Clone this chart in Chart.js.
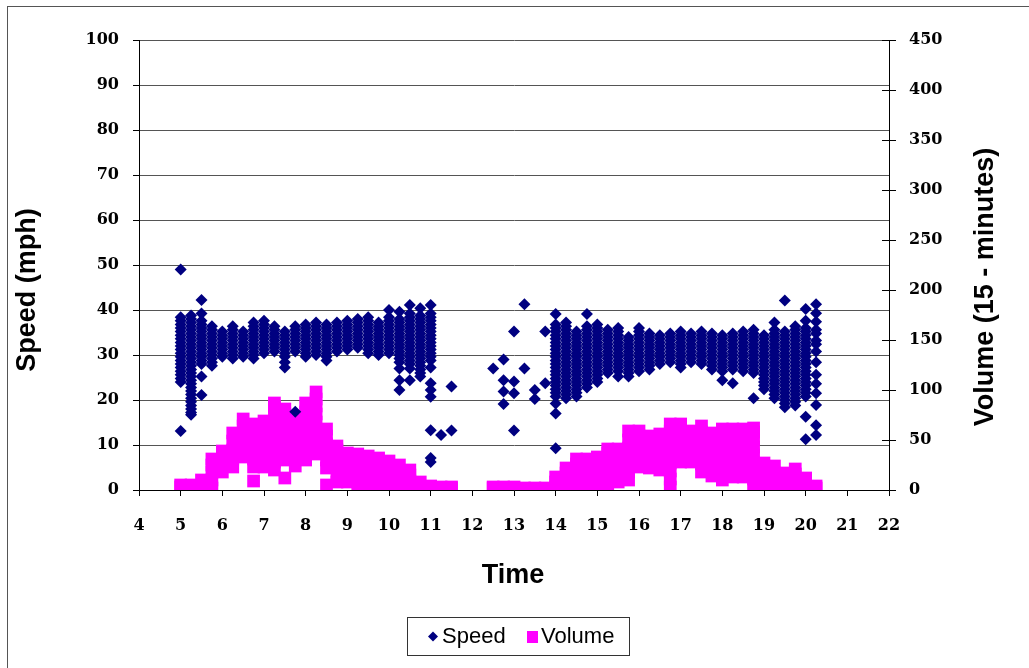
<!DOCTYPE html>
<html>
<head>
<meta charset="utf-8">
<title>Speed and Volume by Time</title>
<script src="https://cdn.jsdelivr.net/npm/chart.js@4.4.1/dist/chart.umd.min.js"></script>
<style>
  html, body { margin: 0; padding: 0; background: #fff; }
  #wrap { width: 1029px; height: 668px; position: relative; }
</style>
</head>
<body>
<div id="wrap"><canvas id="chart"></canvas></div>
<script>
// 15-minute time slots (hour of day) with the speeds observed in each slot (mph)
const speedTimes = [
  5, 5.25, 5.5, 5.75, 6, 6.25, 6.5, 6.75, 7, 7.25, 7.5, 7.75, 8, 8.25, 8.5, 8.75,
  9, 9.25, 9.5, 9.75, 10, 10.25, 10.5, 10.75, 11, 11.25, 11.5,
  12.5, 12.75, 13, 13.25, 13.5, 13.75,
  14, 14.25, 14.5, 14.75, 15, 15.25, 15.5, 15.75, 16, 16.25, 16.5, 16.75,
  17, 17.25, 17.5, 17.75, 18, 18.25, 18.5, 18.75, 19, 19.25, 19.5, 19.75, 20, 20.25
];
const speedValues = [
  [49, 38.4, 37.6, 36.8, 36.0, 35.2, 34.4, 33.6, 32.8, 32.0, 31.2, 30.4, 29.6, 28.8, 28.0, 27.2, 26.4, 25.6, 24.8, 24.0, 13.1],
  [38.8, 38.0, 37.2, 36.4, 35.6, 34.8, 34.0, 33.2, 32.4, 31.6, 30.8, 30.0, 29.2, 28.4, 27.6, 26.8, 26.0, 25.2, 24.4, 23.6, 22.8, 22.0, 21.2, 20.4, 19.6, 18.8, 18.0, 17.2, 16.7],
  [42.2, 39.2, 37.6, 36.8, 36.0, 35.2, 34.4, 33.6, 32.8, 32.0, 31.2, 30.4, 29.6, 28.8, 28.0, 25.2, 21.1],
  [36.4, 35.6, 34.8, 34.0, 33.2, 32.4, 31.6, 30.8, 30.0, 29.2, 28.4, 27.6],
  [35.2, 34.4, 33.6, 32.8, 32.0, 31.2, 30.4, 29.6],
  [36.4, 35.6, 34.8, 34.0, 33.2, 32.4, 31.6, 30.8, 30.0, 29.2],
  [35.2, 34.4, 33.6, 32.8, 32.0, 31.2, 30.4, 29.6],
  [37.2, 36.4, 35.6, 34.8, 34.0, 33.2, 32.4, 31.6, 30.8, 30.0, 29.2],
  [37.6, 36.8, 36.0, 35.2, 34.4, 33.6, 32.8, 32.0, 31.2, 30.4],
  [36.4, 35.6, 34.8, 34.0, 33.2, 32.4, 31.6, 30.8],
  [35.2, 34.4, 33.6, 32.8, 32.0, 31.2, 30.4, 29.6, 28.4, 27.2],
  [36.4, 35.6, 34.8, 34.0, 33.2, 32.4, 31.6, 30.8, 17.4],
  [36.8, 36.0, 35.2, 34.4, 33.6, 32.8, 32.0, 31.2, 30.4, 29.6],
  [37.2, 36.4, 35.6, 34.8, 34.0, 33.2, 32.4, 31.6, 30.8, 30.0],
  [36.8, 36.0, 35.2, 34.4, 33.6, 32.8, 32.0, 31.2, 30.4, 29.6, 28.8],
  [37.2, 36.4, 35.6, 34.8, 34.0, 33.2, 32.4, 31.6, 30.8],
  [37.6, 36.8, 36.0, 35.2, 34.4, 33.6, 32.8, 32.0, 31.2],
  [38.0, 37.2, 36.4, 35.6, 34.8, 34.0, 33.2, 32.4, 31.6],
  [38.4, 37.6, 36.8, 36.0, 35.2, 34.4, 33.6, 32.8, 32.0, 31.2, 30.4],
  [37.2, 36.4, 35.6, 34.8, 34.0, 33.2, 32.4, 31.6, 30.8, 30.0],
  [40.0, 38.4, 37.6, 36.8, 36.0, 35.2, 34.4, 33.6, 32.8, 32.0, 31.2, 30.4],
  [39.6, 38.0, 37.2, 36.4, 35.6, 34.8, 34.0, 33.2, 32.4, 31.6, 30.8, 30.0, 29.2, 28.4, 27.0, 24.4, 22.2],
  [41.1, 39.2, 38.4, 37.6, 36.8, 36.0, 35.2, 34.4, 33.6, 32.8, 32.0, 31.2, 30.4, 29.6, 28.8, 28.0, 27.0, 24.4],
  [40.4, 38.8, 38.0, 37.2, 36.4, 35.6, 34.8, 34.0, 33.2, 32.4, 31.6, 30.8, 30.0, 29.2, 28.4, 27.6, 26.8, 26.0, 25.2],
  [41.1, 39.2, 38.4, 37.6, 36.8, 36.0, 35.2, 34.4, 33.6, 32.8, 32.0, 31.2, 30.4, 29.6, 28.8, 27.2, 23.7, 22.2, 20.7, 13.3, 7.1, 6.2],
  [12.2],
  [23, 13.2],
  [27],
  [29, 24.4, 21.9, 19.1],
  [35.2, 24.1, 21.5, 13.2],
  [41.3, 27],
  [22.2, 20.2],
  [35.2, 23.7],
  [39.1, 36.8, 36.0, 35.2, 34.4, 33.6, 32.8, 32.0, 31.2, 30.4, 29.6, 28.8, 28.0, 27.2, 26.4, 25.6, 24.8, 24.0, 23.2, 22.4, 21.6, 20.8, 19.2, 17.0, 9.3],
  [37.2, 36.4, 35.6, 34.8, 34.0, 33.2, 32.4, 31.6, 30.8, 30.0, 29.2, 28.4, 27.6, 26.8, 26.0, 25.2, 24.4, 23.6, 22.8, 22.0, 21.2, 20.4],
  [35.2, 34.4, 33.6, 32.8, 32.0, 31.2, 30.4, 29.6, 28.8, 28.0, 27.2, 26.4, 25.6, 24.8, 24.0, 23.2, 22.4, 21.6, 20.8],
  [39.1, 36.4, 35.6, 34.8, 34.0, 33.2, 32.4, 31.6, 30.8, 30.0, 29.2, 28.4, 27.6, 26.8, 26.0, 25.2, 24.4, 23.6, 22.8],
  [36.8, 36.0, 35.2, 34.4, 33.6, 32.8, 32.0, 31.2, 30.4, 29.6, 28.8, 28.0, 27.2, 26.4, 25.6, 24.8, 24.0],
  [35.6, 34.8, 34.0, 33.2, 32.4, 31.6, 30.8, 30.0, 29.2, 28.4, 27.6, 26.8, 26.0],
  [36.0, 35.2, 34.4, 33.6, 32.8, 32.0, 31.2, 30.4, 29.6, 28.8, 28.0, 27.2, 26.4, 25.2],
  [34.0, 33.2, 32.4, 31.6, 30.8, 30.0, 29.2, 28.4, 27.6, 26.8, 26.0, 25.2],
  [36.0, 35.2, 34.4, 33.6, 32.8, 32.0, 31.2, 30.4, 29.6, 28.8, 28.0, 27.2, 26.4],
  [34.8, 34.0, 33.2, 32.4, 31.6, 30.8, 30.0, 29.2, 28.4, 27.6, 26.8],
  [34.4, 33.6, 32.8, 32.0, 31.2, 30.4, 29.6, 28.8, 28.0],
  [34.8, 34.0, 33.2, 32.4, 31.6, 30.8, 30.0, 29.2, 28.4],
  [35.2, 34.4, 33.6, 32.8, 32.0, 31.2, 30.4, 29.6, 28.8, 28.0, 27.2],
  [34.8, 34.0, 33.2, 32.4, 31.6, 30.8, 30.0, 29.2, 28.4],
  [35.2, 34.4, 33.6, 32.8, 32.0, 31.2, 30.4, 29.6, 28.8, 28.0],
  [34.8, 34.0, 33.2, 32.4, 31.6, 30.8, 30.0, 29.2, 28.4, 27.6, 26.8],
  [34.4, 33.6, 32.8, 32.0, 31.2, 30.4, 29.6, 28.8, 28.0, 27.2, 26.4, 24.4],
  [34.8, 34.0, 33.2, 32.4, 31.6, 30.8, 30.0, 29.2, 28.4, 27.6, 26.8, 23.7],
  [35.2, 34.4, 33.6, 32.8, 32.0, 31.2, 30.4, 29.6, 28.8, 28.0, 27.2, 26.4],
  [35.6, 34.8, 34.0, 33.2, 32.4, 31.6, 30.8, 30.0, 29.2, 28.4, 27.6, 26.8, 26.0, 20.4],
  [34.4, 33.6, 32.8, 32.0, 31.2, 30.4, 29.6, 28.8, 28.0, 27.2, 26.4, 25.6, 24.8, 24.0, 23.2, 22.4],
  [37.2, 35.6, 34.8, 34.0, 33.2, 32.4, 31.6, 30.8, 30.0, 29.2, 28.4, 27.6, 26.8, 26.0, 25.2, 24.4, 23.6, 22.8, 22.0, 21.2, 20.4],
  [42.1, 35.2, 34.4, 33.6, 32.8, 32.0, 31.2, 30.4, 29.6, 28.8, 28.0, 27.2, 26.4, 25.6, 24.8, 24.0, 23.2, 22.4, 21.6, 20.8, 20.0, 19.2, 18.4],
  [36.4, 35.6, 34.8, 34.0, 33.2, 32.4, 31.6, 30.8, 30.0, 29.2, 28.4, 27.6, 26.8, 26.0, 25.2, 24.4, 23.6, 22.8, 22.0, 21.2, 20.4, 19.6, 18.8],
  [40.2, 37.6, 36.0, 35.2, 34.4, 33.6, 32.8, 32.0, 31.2, 30.4, 29.6, 28.8, 28.0, 27.2, 26.4, 25.6, 24.8, 24.0, 23.2, 22.4, 21.6, 20.8, 16.3, 11.3],
  [41.3, 39.3, 37.4, 35.6, 34.8, 33.2, 32.4, 30.8, 28.4, 25.6, 23.6, 21.5, 18.9, 14.4, 12.2]
];

// 15-minute vehicle counts recorded in each slot
const volumeTimes = [
  5, 5.25, 5.5, 5.75, 6, 6.25, 6.5, 6.75, 7, 7.25, 7.5, 7.75, 8, 8.25, 8.5, 8.75,
  9, 9.25, 9.5, 9.75, 10, 10.25, 10.5, 10.75, 11, 11.25, 11.5,
  12.5, 12.75, 13, 13.25, 13.5, 13.75,
  14, 14.25, 14.5, 14.75, 15, 15.25, 15.5, 15.75, 16, 16.25, 16.5, 16.75,
  17, 17.25, 17.5, 17.75, 18, 18.25, 18.5, 18.75, 19, 19.25, 19.5, 19.75, 20, 20.25
];
const volumeValues = [
  [3, 5], [3, 5], [2, 10], [2, 10, 18, 25, 31], [18, 26, 33, 39],
  [23, 31, 40, 49, 57], [33, 41, 49, 57, 64, 71], [9, 23, 31, 39, 47, 55, 62, 66],
  [23, 31, 39, 47, 55, 63, 69], [20, 28, 36, 44, 52, 60, 68, 76, 83, 87],
  [12, 30, 38, 46, 54, 62, 70, 76, 81], [24, 32, 40, 48, 56, 64, 70],
  [30, 38, 46, 54, 62, 70, 78, 87], [36, 44, 52, 60, 68, 76, 84, 91, 98],
  [5, 22, 30, 38, 46, 54, 61], [8, 16, 24, 32, 40, 44], [8, 16, 24, 31, 37],
  [5, 13, 21, 29, 36], [5, 13, 20, 27, 34], [3, 11, 18, 25, 32], [2, 10, 17, 23, 29],
  [2, 10, 18, 25], [2, 9, 15, 20], [2, 8], [2, 4], [2, 3], [2, 3],
  [2, 3], [2, 3], [2, 3], [1, 2], [1, 2], [1, 2],
  [2, 8, 13], [3, 11, 17, 22], [3, 11, 19, 26, 31], [4, 12, 20, 27, 31], [5, 13, 21, 28, 33],
  [6, 14, 22, 30, 37, 41], [8, 16, 24, 32, 38, 41], [10, 18, 26, 34, 42, 50, 59],
  [23, 31, 39, 47, 54, 59], [22, 30, 38, 46, 54], [20, 28, 36, 44, 51, 56],
  [3, 11, 19, 27, 35, 43, 51, 59, 66], [28, 36, 44, 52, 60, 66], [28, 36, 44, 52, 59],
  [18, 26, 34, 42, 50, 58, 64], [14, 22, 30, 38, 46, 53, 57], [10, 18, 26, 34, 42, 50, 57, 61],
  [13, 21, 29, 37, 45, 53, 61], [13, 21, 29, 37, 45, 53, 61], [3, 11, 19, 27, 35, 43, 51, 58, 62],
  [3, 11, 19, 27], [3, 10, 17, 24], [2, 10, 17], [2, 9, 16, 21], [2, 8, 12], [2, 4]
];

const xTickMin = 4, xTickMax = 22, xTickStep = 1;
const speedTickMax = 100, speedTickStep = 10;
const volumeTickMax = 450, volumeTickStep = 50;

const speedColor = '#000080';
const volumeColor = '#ff00ff';

const toPoints = (times, values) =>
  times.flatMap((t, i) => values[i].map(v => ({ x: t, y: v })));

const tickFont = { family: '"DejaVu Serif", serif', size: 16, weight: 'bold' };
const titleFont = 'bold 27px "Liberation Sans", Arial, sans-serif';

// Frame, inner half of the right-axis ticks, axis titles and the boxed legend
const decorations = {
  id: 'decorations',
  afterDraw(chart) {
    const ctx = chart.ctx;
    const area = chart.chartArea;
    const y1 = chart.scales.y1;
    ctx.save();

    ctx.strokeStyle = '#555';
    ctx.lineWidth = 1;
    ctx.strokeRect(7.5, 6.5, 1100, 700);

    ctx.strokeStyle = '#000';
    ctx.beginPath();
    for (let v = 0; v <= volumeTickMax; v += volumeTickStep) {
      const py = Math.round(y1.getPixelForValue(v)) + 0.5;
      ctx.moveTo(area.right - 7, py);
      ctx.lineTo(area.right, py);
    }
    ctx.stroke();

    ctx.fillStyle = '#000';
    ctx.font = titleFont;
    ctx.textAlign = 'center';
    ctx.textBaseline = 'middle';
    ctx.fillText('Time', 513, 576);
    ctx.save();
    ctx.translate(28, 290);
    ctx.rotate(-Math.PI / 2);
    ctx.fillText('Speed (mph)', 0, 0);
    ctx.restore();
    ctx.save();
    ctx.translate(986, 287);
    ctx.rotate(-Math.PI / 2);
    ctx.fillText('Volume (15 - minutes)', 0, 0);
    ctx.restore();

    // legend
    ctx.strokeStyle = '#333';
    ctx.strokeRect(407.5, 617.5, 222, 38);
    ctx.fillStyle = speedColor;
    ctx.beginPath();
    ctx.moveTo(428, 636.5);
    ctx.lineTo(433, 631.5);
    ctx.lineTo(438, 636.5);
    ctx.lineTo(433, 641.5);
    ctx.closePath();
    ctx.fill();
    ctx.fillStyle = volumeColor;
    ctx.fillRect(527, 631, 11, 12);
    ctx.fillStyle = '#000';
    ctx.font = '22px "Liberation Sans", Arial, sans-serif';
    ctx.textAlign = 'left';
    ctx.fillText('Speed', 442, 637);
    ctx.fillText('Volume', 541, 637);
    ctx.restore();
  }
};

new Chart(document.getElementById('chart'), {
  type: 'scatter',
  data: {
    datasets: [
      {
        label: 'Speed',
        data: toPoints(speedTimes, speedValues),
        yAxisID: 'y',
        pointStyle: 'rectRot',
        pointRadius: 6,
        pointHoverRadius: 6,
        backgroundColor: speedColor,
        borderWidth: 0
      },
      {
        label: 'Volume',
        data: toPoints(volumeTimes, volumeValues),
        yAxisID: 'y1',
        pointStyle: 'rect',
        pointRadius: 9,
        pointHoverRadius: 9,
        backgroundColor: volumeColor,
        borderWidth: 0
      }
    ]
  },
  options: {
    responsive: true,
    maintainAspectRatio: false,
    animation: false,
    events: [],
    layout: { padding: { top: 40, left: 0, right: 0, bottom: 0 } },
    plugins: { legend: { display: false }, tooltip: { enabled: false } },
    scales: {
      x: {
        type: 'linear',
        position: 'bottom',
        min: xTickMin,
        max: xTickMax,
        ticks: { stepSize: xTickStep, autoSkip: false, maxRotation: 0, color: '#000', font: tickFont, padding: 20 },
        grid: { drawOnChartArea: false, drawTicks: true, tickLength: 6, color: '#000' },
        border: { display: true, color: '#000', width: 1 },
        afterFit: s => { s.height = 178; }
      },
      y: {
        position: 'left',
        min: 0,
        max: speedTickMax,
        ticks: { stepSize: speedTickStep, color: '#000', font: tickFont, padding: 14 },
        grid: { color: '#555', tickLength: 6, tickColor: '#000' },
        border: { display: true, color: '#000', width: 1 },
        afterFit: s => { s.width = 139; }
      },
      y1: {
        position: 'right',
        min: 0,
        max: volumeTickMax,
        ticks: { stepSize: volumeTickStep, color: '#000', font: tickFont, padding: 13 },
        grid: { drawOnChartArea: false, tickLength: 7, color: '#000' },
        border: { display: true, color: '#000', width: 1 },
        afterFit: s => { s.width = 140; }
      }
    }
  },
  plugins: [decorations]
});
</script>
</body>
</html>
